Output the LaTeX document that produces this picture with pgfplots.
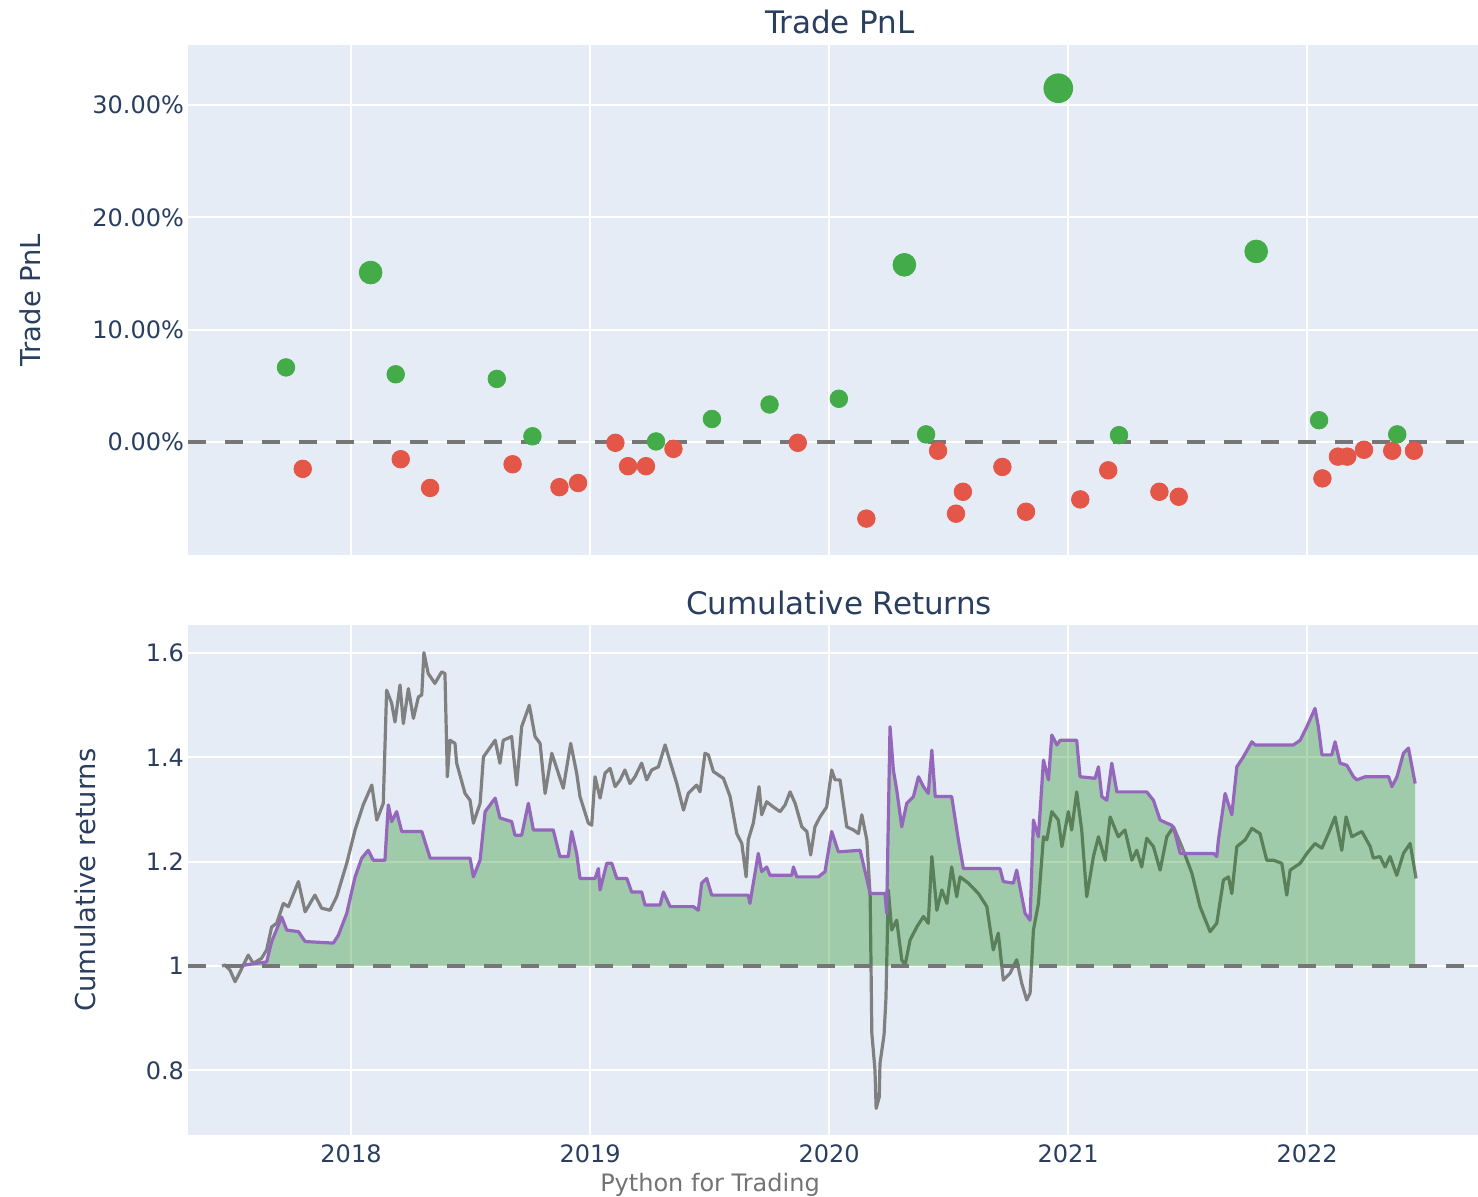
\documentclass[border=0pt]{standalone}
\usepackage{fontspec}
\setmainfont{DejaVu Sans}
\usepackage{pgfplots}
\usepackage{pgfplotstable}
\pgfplotsset{compat=1.18}
\definecolor{plotbg}{RGB}{229,236,246}
\definecolor{plottext}{RGB}{42,63,95}
\definecolor{wingreen}{RGB}{67,172,72}
\definecolor{lossred}{RGB}{228,86,72}
\definecolor{eqpurple}{RGB}{148,103,189}
\definecolor{benchgray}{RGB}{128,128,128}
\definecolor{areagreen}{RGB}{0,128,0}
\definecolor{dashgray}{RGB}{118,118,118}

\pgfplotstableread{
x y
2017.460 1.000
2017.473 1.002
2017.494 0.992
2017.515 0.970
2017.536 0.989
2017.570 1.021
2017.591 1.005
2017.626 1.015
2017.647 1.031
2017.668 1.075
2017.689 1.082
2017.717 1.120
2017.738 1.114
2017.780 1.162
2017.808 1.104
2017.849 1.136
2017.877 1.111
2017.912 1.107
2017.940 1.133
2017.982 1.197
2018.017 1.261
2018.051 1.309
2018.087 1.347
2018.108 1.280
2018.135 1.312
2018.149 1.529
2018.170 1.504
2018.184 1.468
2018.205 1.539
2018.219 1.465
2018.240 1.532
2018.261 1.475
2018.282 1.516
2018.296 1.520
2018.305 1.601
2018.323 1.561
2018.351 1.542
2018.379 1.564
2018.393 1.561
2018.403 1.363
2018.414 1.433
2018.435 1.427
2018.442 1.389
2018.477 1.331
2018.498 1.318
2018.512 1.274
2018.540 1.312
2018.554 1.401
2018.603 1.433
2018.623 1.389
2018.637 1.433
2018.672 1.440
2018.693 1.347
2018.714 1.459
2018.746 1.500
2018.770 1.440
2018.791 1.427
2018.812 1.331
2018.840 1.408
2018.888 1.341
2018.919 1.427
2018.944 1.370
2018.958 1.325
2018.993 1.274
2019.007 1.270
2019.021 1.363
2019.042 1.322
2019.063 1.370
2019.084 1.379
2019.105 1.344
2019.126 1.357
2019.146 1.376
2019.167 1.350
2019.188 1.363
2019.216 1.389
2019.237 1.357
2019.258 1.376
2019.286 1.382
2019.314 1.424
2019.335 1.392
2019.363 1.350
2019.391 1.299
2019.411 1.331
2019.446 1.347
2019.460 1.334
2019.481 1.408
2019.495 1.405
2019.516 1.373
2019.558 1.360
2019.586 1.325
2019.614 1.254
2019.635 1.235
2019.653 1.171
2019.662 1.242
2019.683 1.274
2019.707 1.344
2019.718 1.290
2019.739 1.315
2019.767 1.305
2019.795 1.296
2019.816 1.309
2019.837 1.334
2019.858 1.312
2019.886 1.267
2019.907 1.258
2019.923 1.213
2019.941 1.267
2019.962 1.286
2019.990 1.305
2020.011 1.376
2020.025 1.357
2020.046 1.357
2020.074 1.267
2020.102 1.261
2020.123 1.254
2020.137 1.290
2020.158 1.242
2020.172 1.133
2020.179 0.871
2020.192 0.801
2020.197 0.727
2020.210 0.749
2020.213 0.813
2020.230 0.868
2020.238 0.938
2020.248 1.146
2020.262 1.069
2020.283 1.088
2020.304 1.012
2020.318 1.002
2020.339 1.050
2020.367 1.075
2020.395 1.095
2020.415 1.082
2020.430 1.210
2020.451 1.107
2020.472 1.146
2020.493 1.120
2020.513 1.190
2020.534 1.133
2020.548 1.171
2020.583 1.159
2020.625 1.139
2020.660 1.114
2020.687 1.031
2020.708 1.063
2020.729 0.973
2020.757 0.986
2020.785 1.012
2020.806 0.967
2020.827 0.935
2020.841 0.948
2020.855 1.069
2020.876 1.120
2020.897 1.248
2020.911 1.242
2020.932 1.296
2020.959 1.280
2020.974 1.229
2021.001 1.296
2021.015 1.261
2021.036 1.334
2021.057 1.261
2021.078 1.133
2021.106 1.210
2021.127 1.248
2021.155 1.203
2021.176 1.286
2021.210 1.248
2021.238 1.261
2021.267 1.203
2021.287 1.222
2021.308 1.190
2021.329 1.245
2021.357 1.229
2021.385 1.184
2021.413 1.248
2021.441 1.267
2021.476 1.229
2021.518 1.178
2021.552 1.114
2021.594 1.066
2021.622 1.082
2021.650 1.165
2021.671 1.171
2021.685 1.139
2021.706 1.229
2021.741 1.242
2021.769 1.264
2021.803 1.254
2021.831 1.203
2021.859 1.203
2021.894 1.197
2021.915 1.136
2021.929 1.184
2021.971 1.197
2021.999 1.216
2022.033 1.235
2022.062 1.226
2022.089 1.254
2022.117 1.286
2022.145 1.222
2022.163 1.286
2022.187 1.248
2022.229 1.258
2022.264 1.229
2022.277 1.207
2022.305 1.210
2022.326 1.190
2022.347 1.210
2022.375 1.174
2022.403 1.216
2022.431 1.235
2022.456 1.168
}\benchdata

\pgfplotstableread{
x y
2017.536 1.000
2017.556 1.002
2017.647 1.008
2017.668 1.047
2017.710 1.094
2017.731 1.069
2017.780 1.066
2017.808 1.047
2017.926 1.044
2017.947 1.059
2017.982 1.101
2018.017 1.171
2018.045 1.207
2018.072 1.222
2018.093 1.203
2018.142 1.203
2018.156 1.309
2018.170 1.277
2018.191 1.296
2018.212 1.258
2018.296 1.258
2018.331 1.207
2018.498 1.207
2018.512 1.171
2018.540 1.203
2018.561 1.296
2018.603 1.322
2018.623 1.284
2018.672 1.277
2018.686 1.251
2018.714 1.251
2018.742 1.312
2018.763 1.261
2018.846 1.261
2018.874 1.210
2018.909 1.210
2018.923 1.258
2018.944 1.216
2018.958 1.168
2019.021 1.168
2019.035 1.187
2019.042 1.146
2019.070 1.197
2019.091 1.197
2019.112 1.168
2019.154 1.168
2019.174 1.142
2019.216 1.142
2019.230 1.117
2019.293 1.117
2019.307 1.142
2019.335 1.114
2019.432 1.114
2019.453 1.107
2019.467 1.159
2019.488 1.168
2019.509 1.136
2019.662 1.136
2019.669 1.120
2019.704 1.216
2019.718 1.181
2019.739 1.190
2019.753 1.174
2019.844 1.174
2019.851 1.190
2019.865 1.171
2019.955 1.171
2019.983 1.181
2020.011 1.258
2020.039 1.219
2020.130 1.222
2020.172 1.139
2020.234 1.139
2020.241 1.101
2020.255 1.459
2020.269 1.376
2020.283 1.338
2020.304 1.267
2020.325 1.312
2020.353 1.325
2020.374 1.363
2020.395 1.344
2020.415 1.331
2020.430 1.414
2020.444 1.325
2020.513 1.325
2020.541 1.242
2020.562 1.187
2020.715 1.187
2020.729 1.162
2020.771 1.159
2020.785 1.184
2020.820 1.101
2020.841 1.088
2020.855 1.280
2020.876 1.248
2020.897 1.395
2020.918 1.357
2020.932 1.443
2020.953 1.424
2020.967 1.433
2021.036 1.433
2021.050 1.363
2021.113 1.360
2021.127 1.382
2021.141 1.325
2021.162 1.318
2021.183 1.389
2021.204 1.334
2021.329 1.334
2021.357 1.318
2021.385 1.280
2021.413 1.274
2021.434 1.270
2021.448 1.254
2021.469 1.216
2021.608 1.216
2021.622 1.210
2021.629 1.242
2021.657 1.331
2021.685 1.290
2021.706 1.382
2021.733 1.401
2021.769 1.430
2021.782 1.424
2021.943 1.424
2021.971 1.433
2021.999 1.459
2022.033 1.494
2022.047 1.459
2022.062 1.405
2022.103 1.405
2022.117 1.430
2022.138 1.389
2022.166 1.385
2022.194 1.363
2022.208 1.357
2022.243 1.363
2022.341 1.363
2022.355 1.344
2022.376 1.363
2022.403 1.408
2022.424 1.418
2022.452 1.350
}\equitydata

\pgfplotsset{
  plotlystyle/.style={
    scale only axis, width=645pt, height=255pt,
    xmin=2017.318, xmax=2022.715,
    axis background/.style={fill=plotbg},
    axis line style={draw=none},
    major tick length=0pt,
    grid=major,
    major grid style={white, line width=1pt},
    tick label style={font=\fontsize{12}{14}\selectfont, text=plottext},
    xticklabel style={yshift=-1.5pt},
    yticklabel style={xshift=1.5pt},
    xtick={2018,2019,2020,2021,2022},
    title style={font=\fontsize{15.5}{18}\selectfont, text=plottext, anchor=center},
    ylabel style={font=\fontsize{13.7}{16}\selectfont, text=plottext, anchor=center},
  }
}

\begin{document}
\begin{tikzpicture}

% ---------- Trade PnL ----------
\begin{axis}[plotlystyle,
  at={(94pt,-22.5pt)}, anchor=north west,
  ymin=-10.06, ymax=35.35,
  ytick={0,10,20,30},
  yticklabels={0.00\%,10.00\%,20.00\%,30.00\%},
  xticklabels={},
  title={Trade PnL},
  title style={at={(axis description cs:0.5054,1)}, yshift=5.5pt},
  ylabel={Trade PnL},
  ylabel style={at={(axis description cs:-0.1225,0.5)}},
]
\addplot[only marks, mark=*, mark size=4.4pt, color=lossred, mark options={draw=none, fill=lossred}] table {
x y
2017.798 -2.39
2018.208 -1.53
2018.331 -4.09
2018.676 -1.98
2018.872 -4.02
2018.950 -3.65
2019.106 -0.07
2019.159 -2.15
2019.234 -2.15
2019.349 -0.61
2019.869 -0.07
2020.156 -6.82
2020.456 -0.78
2020.531 -6.38
2020.560 -4.43
2020.725 -2.22
2020.824 -6.21
2021.051 -5.11
2021.168 -2.52
2021.382 -4.43
2021.463 -4.87
2022.064 -3.24
2022.129 -1.30
2022.168 -1.30
2022.238 -0.69
2022.356 -0.78
2022.447 -0.78
};
\addplot[only marks, mark=*, mark size=4.4pt, color=wingreen, mark options={draw=none, fill=wingreen}] table {
x y
2017.728 6.64
2018.187 6.03
2018.610 5.62
2018.759 0.51
2019.276 0.05
2019.510 2.05
2019.751 3.34
2020.041 3.85
2020.406 0.68
2021.213 0.61
2022.050 1.94
2022.377 0.68
};
\addplot[only marks, mark=*, mark size=5.7pt, color=wingreen, mark options={draw=none, fill=wingreen}] table {
x y
2018.082 15.09
2020.315 15.78
2021.787 16.97
};
\addplot[only marks, mark=*, mark size=7.2pt, color=wingreen, mark options={draw=none, fill=wingreen}] table {
x y
2020.959 31.50
};
\addplot[dashgray, line width=1.75pt, dash pattern=on 9pt off 9.5pt] coordinates {(2017.318,0) (2022.715,0)};
\end{axis}

% ---------- Cumulative Returns ----------
\begin{axis}[plotlystyle,
  at={(94pt,-312.5pt)}, anchor=north west,
  ymin=0.676, ymax=1.654,
  ytick={0.8,1,1.2,1.4,1.6},
  yticklabels={0.8,1,1.2,1.4,1.6},
  xticklabels={2018,2019,2020,2021,2022},
  title={Cumulative Returns},
  title style={at={(axis description cs:0.5047,1)}, yshift=5pt},
  ylabel={Cumulative returns},
  ylabel style={at={(axis description cs:-0.0798,0.5)}},
]
\addplot[benchgray, line width=1.6pt, line join=round] table[x=x, y=y] {\benchdata};
\addplot[fill=areagreen, fill opacity=0.3, draw=none] table[x=x, y=y] {\equitydata} -- (axis cs:2022.452,1) -- (axis cs:2017.536,1) -- cycle;
\addplot[eqpurple, line width=1.6pt, line join=round] table[x=x, y=y] {\equitydata};
\addplot[dashgray, line width=1.75pt, dash pattern=on 9pt off 9.5pt] coordinates {(2017.318,1) (2022.715,1)};
\end{axis}

\node[anchor=base, text=black!55, font=\fontsize{12}{14}\selectfont] at (355pt,-595.5pt) {Python for Trading};

\pgfresetboundingbox
\path[use as bounding box] (0,0) rectangle (739pt,-598.5pt);
\end{tikzpicture}
\end{document}
